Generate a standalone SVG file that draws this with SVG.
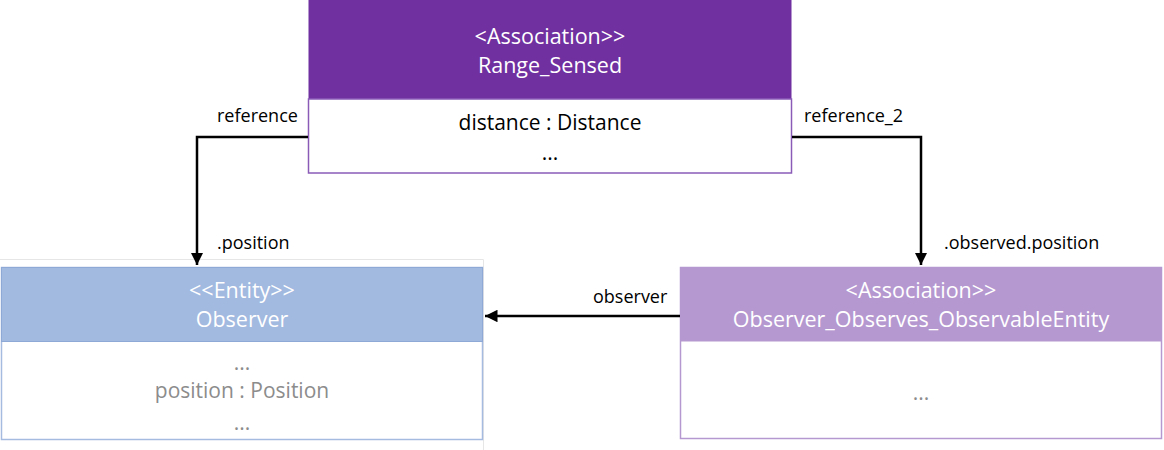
<svg xmlns="http://www.w3.org/2000/svg" width="1164" height="450" viewBox="0 0 1164 450">
  <style>
    text { font-family: "Open Sans", "Liberation Sans", sans-serif; }
    .hd { fill: #ffffff; font-size: 21.5px; text-anchor: middle; }
    .bd { fill: #000000; font-size: 21px; text-anchor: middle; }
    .bg { fill: #8c8c8c; font-size: 21px; text-anchor: middle; }
    .lb { fill: #000000; font-size: 18px; }
    .wire { fill: none; stroke: #000000; stroke-width: 2.5; }
  </style>
  <defs>
    <marker id="arrow" viewBox="0 0 10 10" refX="10" refY="5" markerWidth="5" markerHeight="5" orient="auto" markerUnits="strokeWidth">
      <path d="M0,0 L10,5 L0,10 z" fill="#000000"/>
    </marker>
  </defs>

  <rect width="1164" height="450" fill="#ffffff"/>

  <!-- faint frame behind the Observer class -->
  <path d="M0,259.5 H483.5 V450" fill="none" stroke="#e6e6e6" stroke-width="1"/>

  <g id="range-sensed">
    <rect x="308.5" y="0" width="483" height="99" fill="#7030a0"/>
    <rect x="308.5" y="99" width="483" height="74" fill="#ffffff" stroke="#8a5cb8" stroke-width="1.5"/>
    <text class="hd" x="550" y="44">&lt;Association&gt;&gt;</text>
    <text class="hd" x="550" y="73">Range_Sensed</text>
    <text class="bd" x="550" y="130">distance : Distance</text>
    <text class="bd" x="550" y="160">...</text>
  </g>

  <g id="observer">
    <rect x="1.5" y="267.5" width="481" height="172" fill="#ffffff" stroke="#a6bbe0" stroke-width="1.5"/>
    <rect x="1.5" y="267.5" width="481" height="74" fill="#a2b9e0" stroke="#8fa9d6" stroke-width="1"/>
    <text class="hd" x="242" y="298">&lt;&lt;Entity&gt;&gt;</text>
    <text class="hd" x="242" y="327">Observer</text>
    <text class="bg" x="242" y="370">...</text>
    <text class="bg" x="242" y="398">position : Position</text>
    <text class="bg" x="242" y="430">...</text>
  </g>

  <g id="observer-observes-observable-entity">
    <rect x="680.5" y="267.5" width="481" height="171" fill="#ffffff" stroke="#b598d0" stroke-width="1.5"/>
    <rect x="680.5" y="267.5" width="481" height="74" fill="#b598d0"/>
    <text class="hd" x="921" y="298">&lt;Association&gt;&gt;</text>
    <text class="hd" x="921" y="327">Observer_Observes_ObservableEntity</text>
    <text class="bg" x="921" y="400">...</text>
  </g>

  <g id="connectors">
    <path class="wire" d="M308,137 H197 V265" marker-end="url(#arrow)"/>
    <path class="wire" d="M792,137 H921 V265" marker-end="url(#arrow)"/>
    <path class="wire" d="M680,316 H485" marker-end="url(#arrow)"/>
    <text class="lb" x="217" y="122">reference</text>
    <text class="lb" x="217" y="249">.position</text>
    <text class="lb" x="804" y="122">reference_2</text>
    <text class="lb" x="944" y="249">.observed.position</text>
    <text class="lb" x="593" y="303">observer</text>
  </g>
</svg>
